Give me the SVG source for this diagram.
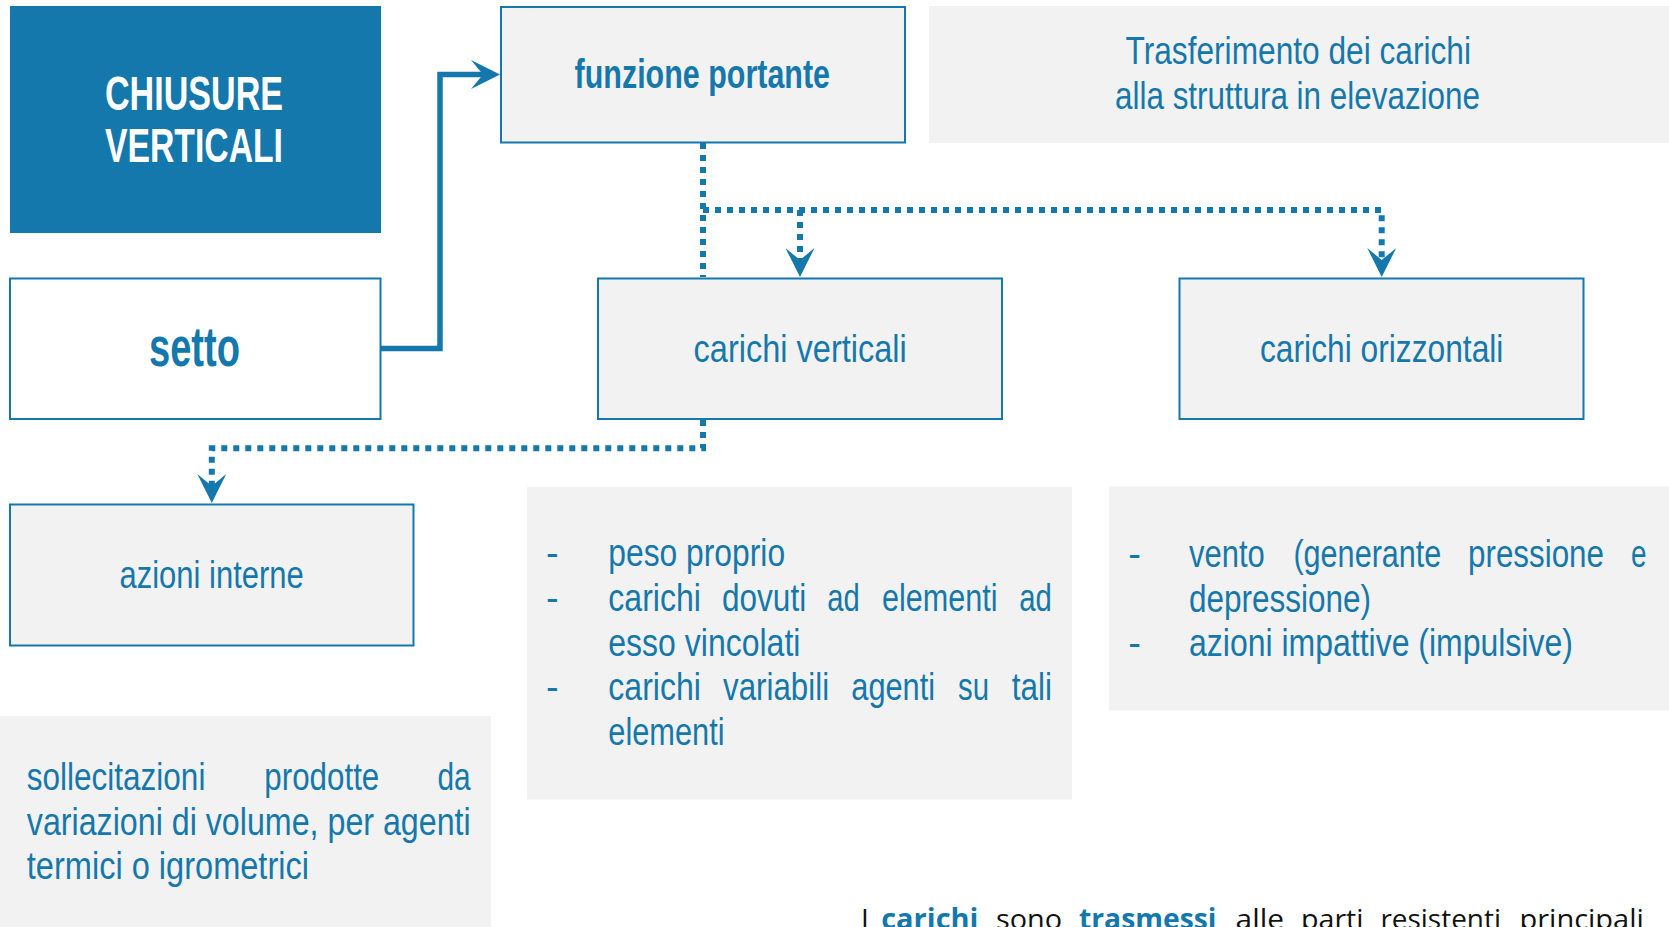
<svg xmlns="http://www.w3.org/2000/svg" width="1669" height="927" viewBox="0 0 1669 927">
<defs>
<style>
.box{fill:#F2F2F2;stroke:#1578AC;stroke-width:2}
.wbox{fill:#FFFFFF;stroke:#1578AC;stroke-width:2}
.panel{fill:#F2F2F2}
.dark{fill:#1578AC}
.t{font-family:"Liberation Sans",Arial,sans-serif;fill:#1578AC;font-size:38px}
.b{font-weight:bold}
.w{fill:#FFFFFF}
.h1{font-size:49px}
.h2{font-size:55px}
.h3{font-size:40px}
.dot{fill:none;stroke:#1578AC;stroke-width:6;stroke-dasharray:6 6}
.solid{fill:none;stroke:#1578AC;stroke-width:5.5}
.note{font-family:"Open Sans","Liberation Sans",sans-serif;font-size:28px;fill:#111111}
.nb{font-weight:bold;fill:#1578AC}
</style>
<marker id="arr" viewBox="0 0 29 29" refX="13" refY="14.5" markerWidth="29" markerHeight="29" markerUnits="userSpaceOnUse" orient="auto">
<path d="M0,0 L29,14.5 L0,29 L12,14.5 Z" fill="#1578AC"/>
</marker>
</defs>
<rect width="1669" height="927" fill="#FFFFFF"/>

<g id="n-chiusure">
<rect class="dark" x="10" y="6" width="371" height="227"/>
<text class="t b w h1" x="105" y="110" textLength="178" lengthAdjust="spacingAndGlyphs">CHIUSURE</text>
<text class="t b w h1" x="105" y="161.5" textLength="178" lengthAdjust="spacingAndGlyphs">VERTICALI</text>
</g>

<g id="n-setto">
<rect class="wbox" x="10" y="278.5" width="370.5" height="140.5"/>
<text class="t b h2" x="149" y="366" textLength="91" lengthAdjust="spacingAndGlyphs">setto</text>
</g>

<g id="n-funzione">
<rect class="box" x="501" y="7" width="404" height="135.5"/>
<text class="t b h3" x="574.6" y="88.3" textLength="255.4" lengthAdjust="spacingAndGlyphs">funzione portante</text>
</g>

<g id="n-trasferimento">
<rect class="panel" x="929" y="6" width="740" height="137"/>
<text class="t" x="1125.5" y="64.3" textLength="345.5" lengthAdjust="spacingAndGlyphs">Trasferimento dei carichi</text>
<text class="t" x="1115" y="109.3" textLength="365" lengthAdjust="spacingAndGlyphs">alla struttura in elevazione</text>
</g>

<g id="n-verticali">
<rect class="box" x="598" y="278.5" width="404" height="140.5"/>
<text class="t" x="693.6" y="361.7" textLength="213.2" lengthAdjust="spacingAndGlyphs">carichi verticali</text>
</g>

<g id="n-orizzontali">
<rect class="box" x="1179.5" y="278.5" width="404" height="140.5"/>
<text class="t" x="1260" y="361.7" textLength="243.4" lengthAdjust="spacingAndGlyphs">carichi orizzontali</text>
</g>

<g id="n-azioni">
<rect class="box" x="10" y="504.5" width="403.5" height="141"/>
<text class="t" x="119.5" y="588" textLength="184.3" lengthAdjust="spacingAndGlyphs">azioni interne</text>
</g>

<g id="n-sollecitazioni">
<rect class="panel" x="0" y="716" width="491" height="211"/>
<text class="t" x="26.8" y="790" textLength="178.6" lengthAdjust="spacingAndGlyphs">sollecitazioni</text>
<text class="t" x="264.3" y="790" textLength="115" lengthAdjust="spacingAndGlyphs">prodotte</text>
<text class="t" x="437.5" y="790" textLength="33.2" lengthAdjust="spacingAndGlyphs">da</text>
<text class="t" x="26.8" y="834.5" textLength="443.9" lengthAdjust="spacingAndGlyphs">variazioni di volume, per agenti</text>
<text class="t" x="26.8" y="879" textLength="282.2" lengthAdjust="spacingAndGlyphs">termici o igrometrici</text>
</g>

<g id="n-list-verticali">
<rect class="panel" x="527" y="487" width="545" height="312.5"/>
<text class="t" x="546" y="566">-</text>
<text class="t" x="546" y="611">-</text>
<text class="t" x="546" y="700">-</text>
<text class="t" x="608.3" y="566" textLength="176.8" lengthAdjust="spacingAndGlyphs">peso proprio</text>
<text class="t" x="608.3" y="611" textLength="92.6" lengthAdjust="spacingAndGlyphs">carichi</text>
<text class="t" x="722" y="611" textLength="84.2" lengthAdjust="spacingAndGlyphs">dovuti</text>
<text class="t" x="827.2" y="611" textLength="32.5" lengthAdjust="spacingAndGlyphs">ad</text>
<text class="t" x="882" y="611" textLength="115.5" lengthAdjust="spacingAndGlyphs">elementi</text>
<text class="t" x="1019.3" y="611" textLength="32.6" lengthAdjust="spacingAndGlyphs">ad</text>
<text class="t" x="608.3" y="655.5" textLength="192.1" lengthAdjust="spacingAndGlyphs">esso vincolati</text>
<text class="t" x="608.3" y="700" textLength="92.6" lengthAdjust="spacingAndGlyphs">carichi</text>
<text class="t" x="723.1" y="700" textLength="106" lengthAdjust="spacingAndGlyphs">variabili</text>
<text class="t" x="851.3" y="700" textLength="83.8" lengthAdjust="spacingAndGlyphs">agenti</text>
<text class="t" x="958.1" y="700" textLength="31" lengthAdjust="spacingAndGlyphs">su</text>
<text class="t" x="1011.7" y="700" textLength="40.2" lengthAdjust="spacingAndGlyphs">tali</text>
<text class="t" x="608.3" y="744.5" textLength="116.3" lengthAdjust="spacingAndGlyphs">elementi</text>
</g>

<g id="n-list-orizzontali">
<rect class="panel" x="1109" y="486.5" width="560" height="224"/>
<text class="t" x="1128.3" y="567">-</text>
<text class="t" x="1128.3" y="656">-</text>
<text class="t" x="1189" y="567" textLength="75.8" lengthAdjust="spacingAndGlyphs">vento</text>
<text class="t" x="1293.4" y="567" textLength="148" lengthAdjust="spacingAndGlyphs">(generante</text>
<text class="t" x="1468" y="567" textLength="136" lengthAdjust="spacingAndGlyphs">pressione</text>
<text class="t" x="1631" y="567" textLength="15.5" lengthAdjust="spacingAndGlyphs">e</text>
<text class="t" x="1189" y="611.5" textLength="182.1" lengthAdjust="spacingAndGlyphs">depressione)</text>
<text class="t" x="1189" y="656" textLength="383.9" lengthAdjust="spacingAndGlyphs">azioni impattive (impulsive)</text>
</g>

<g id="note-bottom">
<text class="note" x="861" y="928.5">I</text>
<text class="note nb" x="881.2" y="928.5" textLength="97.3" lengthAdjust="spacingAndGlyphs">carichi</text>
<text class="note" x="996" y="928.5" textLength="66" lengthAdjust="spacingAndGlyphs">sono</text>
<text class="note nb" x="1079" y="928.5" textLength="137.5" lengthAdjust="spacingAndGlyphs">trasmessi</text>
<text class="note" x="1235.6" y="928.5" textLength="48.4" lengthAdjust="spacingAndGlyphs">alle</text>
<text class="note" x="1301" y="928.5" textLength="62.5" lengthAdjust="spacingAndGlyphs">parti</text>
<text class="note" x="1380.4" y="928.5" textLength="120.6" lengthAdjust="spacingAndGlyphs">resistenti</text>
<text class="note" x="1519.5" y="928.5" textLength="124.3" lengthAdjust="spacingAndGlyphs">principali</text>
</g>

<g id="connectors">
<path class="solid" d="M381,348.5 H440 V74.5 H484" marker-end="url(#arr)"/>
<path class="dot" d="M703,143 V277"/>
<path class="dot" d="M703,210 H1381.7 V261" marker-end="url(#arr)"/>
<path class="dot" d="M800,210 V261" marker-end="url(#arr)"/>
<path class="dot" d="M703,420 V448.3 H211.8 V487" marker-end="url(#arr)"/>
</g>
</svg>
